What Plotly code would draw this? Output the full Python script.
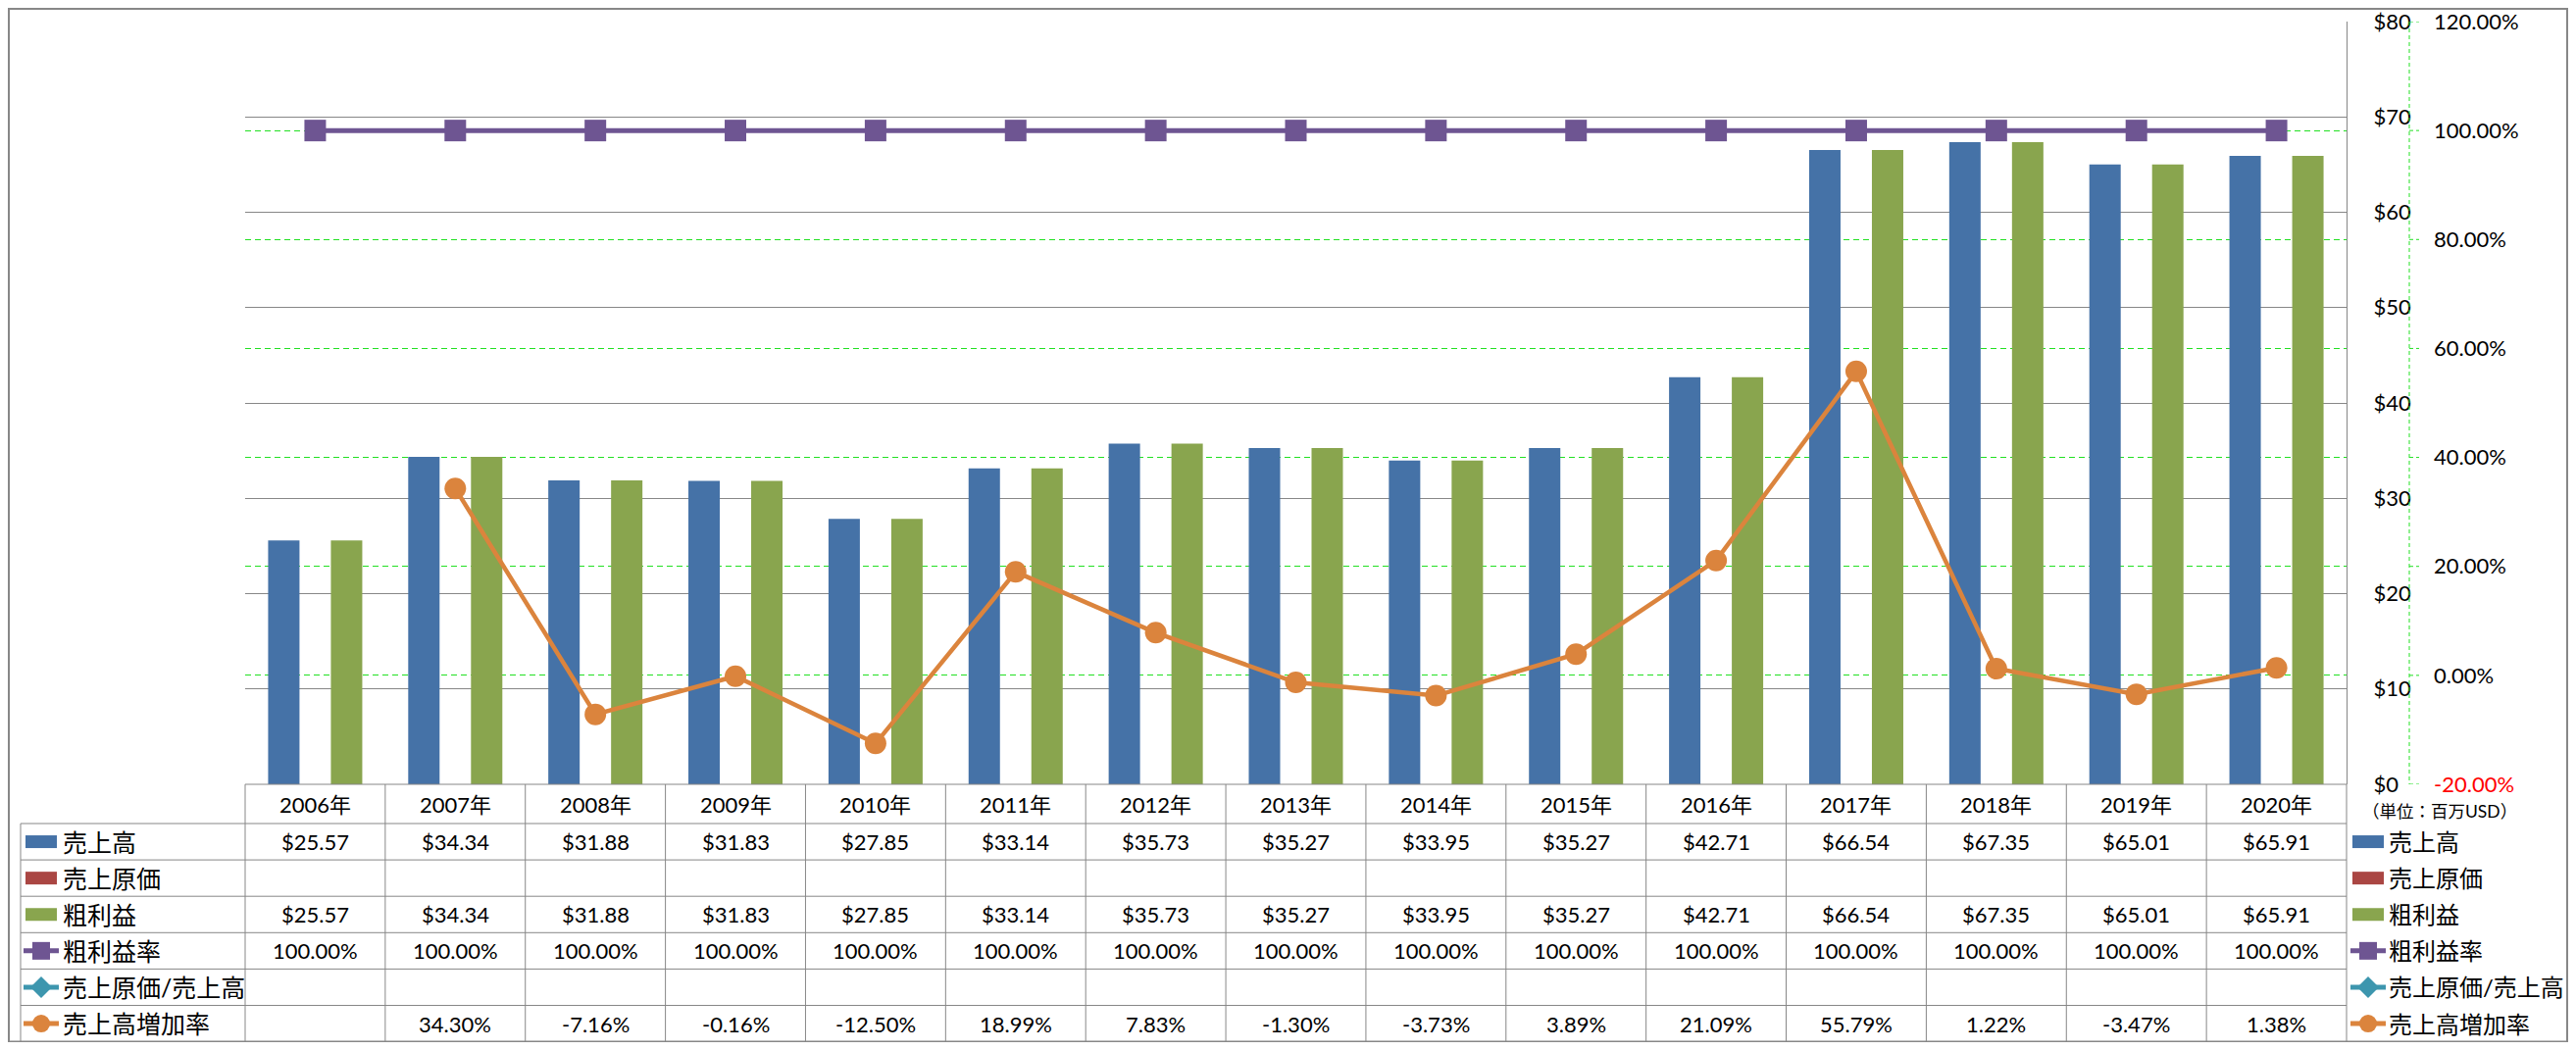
import plotly.graph_objects as go

# ---------------- data ----------------
categories = ['2006年', '2007年', '2008年', '2009年', '2010年', '2011年', '2012年', '2013年',
              '2014年', '2015年', '2016年', '2017年', '2018年', '2019年', '2020年']
sales = [25.57, 34.34, 31.88, 31.83, 27.85, 33.14, 35.73, 35.27, 33.95, 35.27, 42.71, 66.54, 67.35, 65.01, 65.91]
cost_of_sales = [None] * 15
gross_profit = [25.57, 34.34, 31.88, 31.83, 27.85, 33.14, 35.73, 35.27, 33.95, 35.27, 42.71, 66.54, 67.35, 65.01, 65.91]
gross_margin = [100.00] * 15
cost_ratio = [None] * 15
sales_growth = [None, 34.30, -7.16, -0.16, -12.50, 18.99, 7.83, -1.30, -3.73, 3.89, 21.09, 55.79, 1.22, -3.47, 1.38]

y1_ticks = [0, 10, 20, 30, 40, 50, 60, 70, 80]
y2_ticks = [-20, 0, 20, 40, 60, 80, 100, 120]

# ---------------- style ----------------
OFF = 8                      # page body margin
W, H = 2627 - 2 * OFF, 1071 - 2 * OFF
PL, PR, PT, PB = 250, 2393, 22, 800   # plot area in page pixels
PW, PH = PR - PL, PB - PT
FONT = "Lato, Noto Sans CJK JP, sans-serif"
FS = 22
FJ = 25
FJR = 24
GRAY = "#878787"
GREEN_GRID = "#22E022"
C_BLUE, C_RED, C_GREEN = "#4572A7", "#AA4643", "#89A54E"
C_PURPLE, C_TEAL, C_ORANGE = "#6E5592", "#3D96AE", "#DB843D"


def px(X):
    return (X - PL) / PW


def py(Y):
    return (PB - Y) / PH


fig = go.Figure()

slot = 0.224
fig.add_trace(go.Bar(x=categories, y=sales, name='売上高', marker_color=C_BLUE,
                     width=slot, offset=-1.5 * slot, marker_line_width=0))
fig.add_trace(go.Bar(x=categories, y=cost_of_sales, name='売上原価', marker_color=C_RED,
                     width=slot, offset=-0.5 * slot, marker_line_width=0))
fig.add_trace(go.Bar(x=categories, y=gross_profit, name='粗利益', marker_color=C_GREEN,
                     width=slot, offset=0.5 * slot, marker_line_width=0))
fig.add_trace(go.Scatter(x=categories, y=gross_margin, name='粗利益率', yaxis='y2',
                         mode='lines+markers', line=dict(color=C_PURPLE, width=5),
                         marker=dict(symbol='square', size=22, color=C_PURPLE)))
fig.add_trace(go.Scatter(x=categories, y=cost_ratio, name='売上原価/売上高', yaxis='y2',
                         mode='lines+markers', line=dict(color=C_TEAL, width=5),
                         marker=dict(symbol='diamond', size=22, color=C_TEAL)))
fig.add_trace(go.Scatter(x=categories, y=sales_growth, name='売上高増加率', yaxis='y2',
                         mode='lines+markers', line=dict(color=C_ORANGE, width=4.5),
                         marker=dict(symbol='circle', size=22, color=C_ORANGE),
                         connectgaps=False))

y1_text = [f"${v}" for v in y1_ticks]
y2_text = []
for v in y2_ticks:
    t = f"{v:.2f}%"
    if v < 0:
        t = f'<span style="color:#FF0000">{t}</span>'
    y2_text.append(t)

fig.update_layout(
    width=W, height=H,
    margin=dict(l=PL - OFF, r=W - (PR - OFF), t=PT - OFF, b=H - (PB - OFF), pad=0, autoexpand=False),
    paper_bgcolor='white', plot_bgcolor='white',
    showlegend=False, barmode='overlay',
    font=dict(family=FONT, size=FS, color='black'),
    xaxis=dict(type='category', range=[-0.5, 14.5], showticklabels=False, automargin=False,
               showgrid=False, zeroline=False, showline=False, ticks=''),
    yaxis=dict(range=[0, 80], tickvals=y1_ticks, ticktext=y1_text, side='right', automargin=False,
               showgrid=True, gridcolor=GRAY, gridwidth=1, zeroline=False,
               showline=True, linecolor=GRAY, linewidth=1, ticks='',
               ticklabelstandoff=22, ticklabeloverflow='allow', tickfont=dict(size=FS)),
    yaxis2=dict(range=[-20, 120], tickvals=y2_ticks, ticktext=y2_text, overlaying='y',
                side='right', anchor='x', showgrid=True, gridcolor=GREEN_GRID, automargin=False,
                griddash='6px,4px', gridwidth=1, zeroline=False, showline=False,
                ticks='', ticklabelstandoff=88, ticklabeloverflow='allow', tickfont=dict(size=FS)),
)

shapes = []
annotations = []


def hline(x0, x1, Y, color=GRAY, width=1):
    shapes.append(dict(type='line', xref='paper', yref='paper', x0=px(x0), x1=px(x1),
                       y0=py(Y), y1=py(Y), line=dict(color=color, width=width)))


def vline(X, y0, y1, color=GRAY, width=1, dash=None):
    ln = dict(color=color, width=width)
    if dash:
        ln['dash'] = dash
    shapes.append(dict(type='line', xref='paper', yref='paper', x0=px(X), x1=px(X),
                       y0=py(y0), y1=py(y1), line=ln))


# secondary axis line (green dashed) with small ticks
vline(2457, PT, PB, color=GREEN_GRID, width=1, dash='4px,3px')
for v in y2_ticks:
    shapes.append(dict(type='line', xref='paper', yref='y2', x0=px(2457), x1=px(2467),
                       y0=v, y1=v, line=dict(color=GREEN_GRID, width=1, dash='4px,3px')))

# table geometry (page pixels)
header_top, header_bot = 800, 840
row_h = 37.1
row_lines = [header_bot + i * row_h for i in range(7)]
table_bottom = row_lines[-1]

# outer border
shapes.append(dict(type='rect', xref='paper', yref='paper', x0=px(OFF + 1), x1=px(OFF + W - 1),
                   y0=py(OFF + 1), y1=py(table_bottom), line=dict(color=GRAY, width=2)))

# table grid
col_w = PW / len(categories)
hline(PL, PR, header_top)
for Y in row_lines:
    hline(21, PR, Y)
vline(21, header_bot, table_bottom)
for i in range(len(categories) + 1):
    vline(PL + i * col_w, header_top, table_bottom)

# header labels
for c in categories:
    annotations.append(dict(x=c, y=py((header_top + header_bot) / 2), xref='x', yref='paper', text=c,
                            showarrow=False, font=dict(size=FS), xanchor='center', yanchor='middle'))


def fmt_money(v):
    return '' if v is None else f"${v:.2f}"


def fmt_pct(v):
    return '' if v is None else f"{v:.2f}%"


rows = [
    ('売上高', 'bar', C_BLUE, None, [fmt_money(v) for v in sales]),
    ('売上原価', 'bar', C_RED, None, [fmt_money(v) for v in cost_of_sales]),
    ('粗利益', 'bar', C_GREEN, None, [fmt_money(v) for v in gross_profit]),
    ('粗利益率', 'line', C_PURPLE, 'square', [fmt_pct(v) for v in gross_margin]),
    ('売上原価/売上高', 'line', C_TEAL, 'diamond', [fmt_pct(v) for v in cost_ratio]),
    ('売上高増加率', 'line', C_ORANGE, 'circle', [fmt_pct(v) for v in sales_growth]),
]


def legend_symbol(xs, Yc, kind, color, sym):
    if kind == 'bar':
        shapes.append(dict(type='rect', xref='paper', yref='paper', x0=px(xs + 2), x1=px(xs + 34),
                           y0=py(Yc - 6.5), y1=py(Yc + 6.5), fillcolor=color, line=dict(width=0)))
    else:
        shapes.append(dict(type='line', xref='paper', yref='paper', x0=px(xs), x1=px(xs + 36),
                           y0=py(Yc), y1=py(Yc), line=dict(color=color, width=5)))
        cx, r = xs + 18, 9
        if sym == 'square':
            shapes.append(dict(type='rect', xref='paper', yref='paper', x0=px(cx - r), x1=px(cx + r),
                               y0=py(Yc - r), y1=py(Yc + r), fillcolor=color, line=dict(width=0)))
        elif sym == 'circle':
            shapes.append(dict(type='circle', xref='paper', yref='paper', x0=px(cx - r), x1=px(cx + r),
                               y0=py(Yc - r), y1=py(Yc + r), fillcolor=color, line=dict(width=0)))
        else:
            d = r + 2
            path = (f"M {px(cx)} {py(Yc - d)} L {px(cx + d)} {py(Yc)} "
                    f"L {px(cx)} {py(Yc + d)} L {px(cx - d)} {py(Yc)} Z")
            shapes.append(dict(type='path', xref='paper', yref='paper', path=path,
                               fillcolor=color, line=dict(width=0)))


for ri, (name, kind, color, sym, texts) in enumerate(rows):
    Yc = (row_lines[ri] + row_lines[ri + 1]) / 2
    legend_symbol(24, Yc, kind, color, sym)
    annotations.append(dict(x=px(62), y=py(Yc), xref='paper', yref='paper', text=name,
                            showarrow=False, font=dict(size=FJ), xanchor='left', yanchor='middle'))
    legend_symbol(2397, Yc, kind, color, sym)
    annotations.append(dict(x=px(2434), y=py(Yc), xref='paper', yref='paper', text=name,
                            showarrow=False, font=dict(size=FJR), xanchor='left', yanchor='middle'))
    for c, t in zip(categories, texts):
        if t:
            annotations.append(dict(x=c, y=py(Yc), xref='x', yref='paper', text=t,
                                    showarrow=False, font=dict(size=FS),
                                    xanchor='center', yanchor='middle'))

annotations.append(dict(x=px(2488), y=py(827), xref='paper', yref='paper', text='（単位：百万USD）',
                        showarrow=False, font=dict(size=17.5), xanchor='center', yanchor='middle'))

fig.update_layout(shapes=shapes, annotations=annotations)
fig.write_html("out.html")
